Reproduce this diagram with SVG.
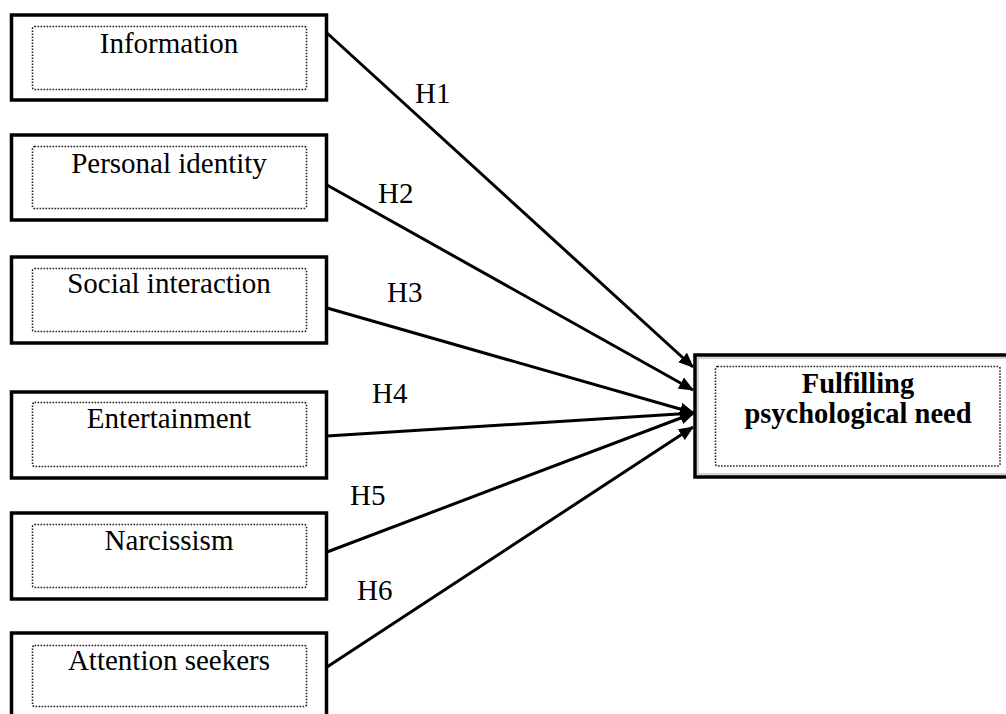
<svg xmlns="http://www.w3.org/2000/svg" width="1006" height="714" viewBox="0 0 1006 714">
<style>
.outer{fill:#fff;stroke:#000;stroke-width:3.5}
.inner{fill:none;stroke:#222;stroke-width:1.6;stroke-dasharray:1.6 1.4}
.lbl{font-family:"Liberation Serif","Times New Roman",serif;font-size:29px;fill:#000;text-anchor:middle}
.bold{font-weight:bold;font-size:28.5px}
.h{font-family:"Liberation Serif","Times New Roman",serif;font-size:29px;fill:#000}
.conn{stroke:#000;stroke-width:3;fill:none}
</style>
<defs>
<marker id="arr" markerWidth="15" markerHeight="13" refX="14" refY="6.5" orient="auto" markerUnits="userSpaceOnUse" viewBox="0 0 15 13">
<path d="M0,0 L15,6.5 L0,13 Z" fill="#000"/>
</marker>
</defs>
<rect width="1006" height="714" fill="#fff"/>
<g id="node-information">
<rect class="outer" x="11.5" y="15" width="315" height="85"/>
<rect class="inner" x="32.5" y="26.5" width="274" height="63" rx="2"/>
<text class="lbl" x="169" y="53">Information</text>
</g>
<g id="node-personal-identity">
<rect class="outer" x="11.5" y="135" width="315" height="85"/>
<rect class="inner" x="32.5" y="146.5" width="274" height="62" rx="2"/>
<text class="lbl" x="169" y="173">Personal identity</text>
</g>
<g id="node-social-interaction">
<rect class="outer" x="11.5" y="257" width="315" height="86"/>
<rect class="inner" x="32.5" y="268.5" width="274" height="63" rx="2"/>
<text class="lbl" x="169" y="293">Social interaction</text>
</g>
<g id="node-entertainment">
<rect class="outer" x="11.5" y="392" width="315" height="86"/>
<rect class="inner" x="32.5" y="402.5" width="274" height="64" rx="2"/>
<text class="lbl" x="169" y="428">Entertainment</text>
</g>
<g id="node-narcissism">
<rect class="outer" x="11.5" y="513" width="315" height="86"/>
<rect class="inner" x="32.5" y="524.5" width="274" height="63" rx="2"/>
<text class="lbl" x="169" y="550">Narcissism</text>
</g>
<g id="node-attention-seekers">
<rect class="outer" x="11.5" y="633" width="315" height="90"/>
<rect class="inner" x="32.5" y="645.5" width="274" height="61" rx="2"/>
<text class="lbl" x="169" y="670">Attention seekers</text>
</g>
<g id="node-fulfilling">
<rect class="outer" x="695" y="355" width="320" height="122"/>
<rect x="698" y="358" width="320" height="116" fill="none" stroke="#aaa" stroke-width="1"/>
<rect class="inner" x="715.5" y="366.5" width="284.5" height="99.5" rx="2"/>
<text class="lbl bold" x="858" y="393">Fulfilling</text>
<text class="lbl bold" x="858" y="423">psychological need</text>
</g>
<g id="connectors">
<line class="conn" x1="327" y1="33" x2="693" y2="367" marker-end="url(#arr)"/>
<line class="conn" x1="327" y1="185" x2="693" y2="390" marker-end="url(#arr)"/>
<line class="conn" x1="327" y1="308" x2="694" y2="413" marker-end="url(#arr)"/>
<line class="conn" x1="327" y1="436" x2="694" y2="413" marker-end="url(#arr)"/>
<line class="conn" x1="327" y1="552" x2="694" y2="413" marker-end="url(#arr)"/>
<line class="conn" x1="327" y1="667" x2="693" y2="427" marker-end="url(#arr)"/>
<text class="h" x="415" y="103">H1</text>
<text class="h" x="378" y="203">H2</text>
<text class="h" x="387" y="302">H3</text>
<text class="h" x="372" y="403">H4</text>
<text class="h" x="350" y="505">H5</text>
<text class="h" x="357" y="600">H6</text>
</g>
</svg>
